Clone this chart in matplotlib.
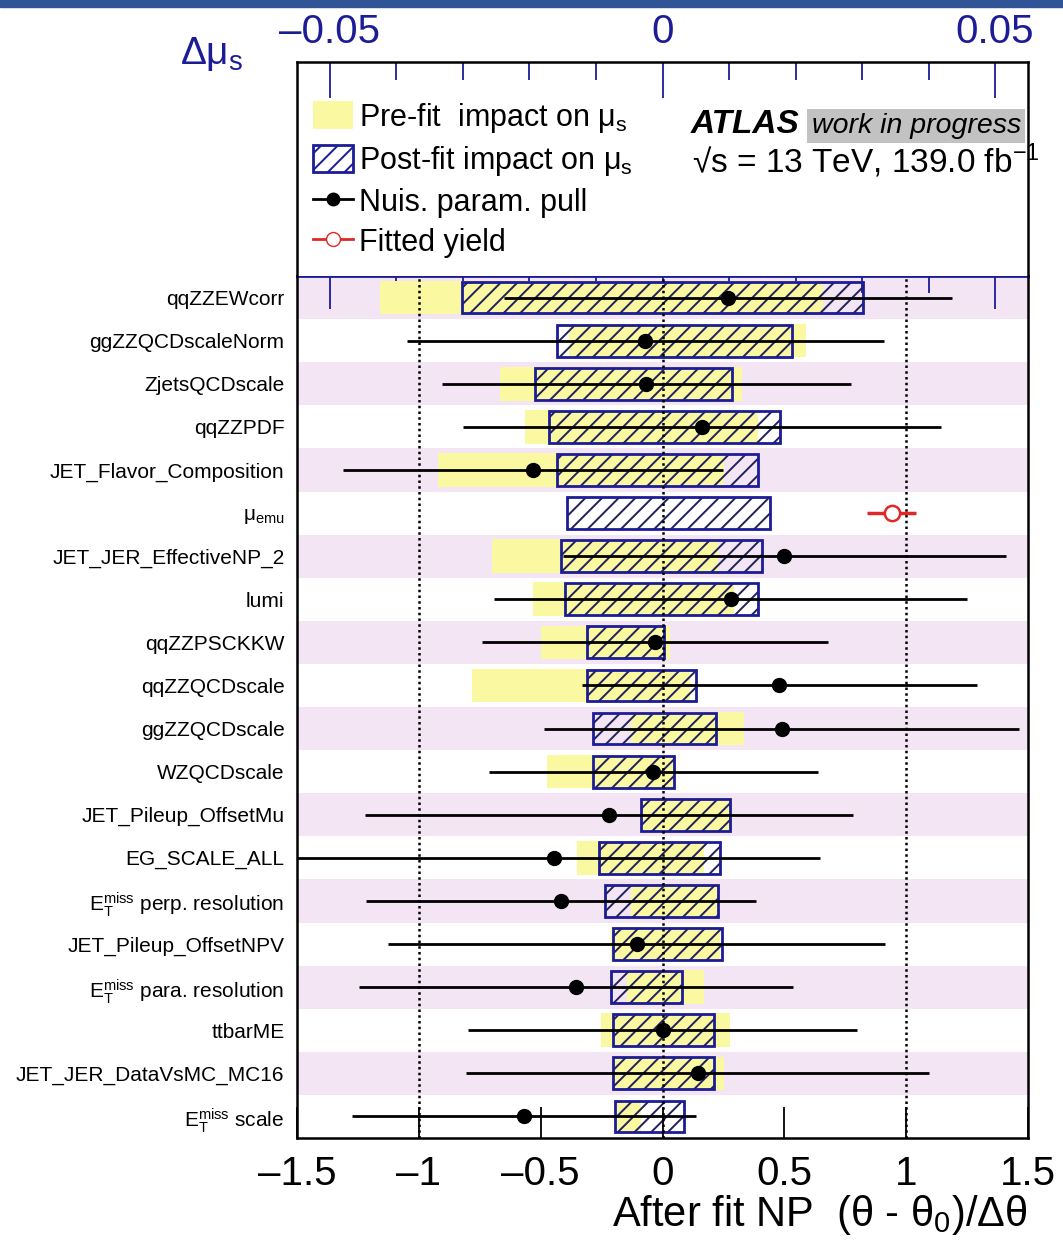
import numpy as np
import matplotlib
matplotlib.use("Agg")
import matplotlib.pyplot as plt
from matplotlib.patches import Patch, Rectangle
from matplotlib.lines import Line2D
from matplotlib.ticker import MultipleLocator, FuncFormatter

nan = np.nan

# nuisance parameters, ranked top to bottom
labels = ["qqZZEWcorr", "ggZZQCDscaleNorm", "ZjetsQCDscale", "qqZZPDF",
          "JET_Flavor_Composition", r"$\mathrm{\mu}_{\mathrm{emu}}$",
          "JET_JER_EffectiveNP_2", "lumi", "qqZZPSCKKW", "qqZZQCDscale",
          "ggZZQCDscale", "WZQCDscale", "JET_Pileup_OffsetMu", "EG_SCALE_ALL",
          r"$\mathrm{E}_{\mathrm{T}}^{\mathrm{miss}}$ perp. resolution",
          "JET_Pileup_OffsetNPV",
          r"$\mathrm{E}_{\mathrm{T}}^{\mathrm{miss}}$ para. resolution",
          "ttbarME", "JET_JER_DataVsMC_MC16",
          r"$\mathrm{E}_{\mathrm{T}}^{\mathrm{miss}}$ scale"]

# impact on mu_s (top axis)
pre_lo = [-0.0424, -0.0141, -0.0245, -0.0206, -0.0338, nan, -0.0257, -0.0195,
          -0.0183, -0.0287, -0.0048, -0.0174, -0.0033, -0.0128, -0.0048,
          -0.0078, -0.0053, -0.0092, -0.0075, -0.0069]
pre_hi = [0.0242, 0.0215, 0.0119, 0.0144, 0.0092, nan, 0.0083, 0.0108,
          0.0012, 0.0041, 0.0123, 0.0017, 0.0101, 0.0062, 0.0083,
          0.0086, 0.0062, 0.0101, 0.0092, -0.0033]
post_lo = [-0.0302, -0.0158, -0.0191, -0.0171, -0.0159, -0.0143, -0.0152,
           -0.0147, -0.0114, -0.0113, -0.0105, -0.0105, -0.0033, -0.0095,
           -0.0087, -0.0074, -0.0078, -0.0075, -0.0075, -0.0071]
post_hi = [0.0302, 0.0194, 0.0105, 0.0176, 0.0143, 0.0161, 0.0149, 0.0143,
           0.0002, 0.0051, 0.0081, 0.0017, 0.0101, 0.0086, 0.0083, 0.0089,
           0.0029, 0.0078, 0.0077, 0.0033]

# pulls (bottom axis)
pulls = [0.27, -0.07, -0.066, 0.162, -0.533, nan, 0.50, 0.28, -0.03, 0.48,
         0.49, -0.037, -0.22, -0.447, -0.416, -0.105, -0.354, 0.0, 0.145, -0.568]
pull_err = [0.92, 0.98, 0.84, 0.98, 0.78, nan, 0.91, 0.97, 0.71, 0.81,
            0.975, 0.676, 1.0, 1.095, 0.80, 1.02, 0.89, 0.80, 0.95, 0.707]

# fitted normalisation
fit_row = [5]
fit_val = [0.94]
fit_err = [0.10]

navy = "#1c1c96"
yellow = "#fbf8a2"
lavender = "#f3e5f3"

plt.rcParams["font.family"] = ["Liberation Sans", "DejaVu Sans"]
plt.rcParams["mathtext.fontset"] = "custom"
plt.rcParams["mathtext.rm"] = "Liberation Sans"
plt.rcParams["mathtext.it"] = "Liberation Sans:italic"
plt.rcParams["mathtext.bf"] = "Liberation Sans:bold"
plt.rcParams["hatch.linewidth"] = 1.4

W, H = 1063, 1246
fig = plt.figure(figsize=(W / 100, H / 100), dpi=100)
fig.patches.append(Rectangle((0, 1 - 7 / H), 1, 7 / H, transform=fig.transFigure,
                             color="#2f5597", zorder=0))

x0, x1 = 297 / W, 1028 / W
ax = fig.add_axes([x0, 1 - 1138 / H, x1 - x0, (1138 - 276) / H])
axl = fig.add_axes([x0, 1 - 276 / H, x1 - x0, (276 - 62) / H])
axp = ax.twiny()

rows = np.arange(len(labels))
imp_lim = 0.05 * 1.5 / 1.365

# --- impacts on main axes
ax.set_axisbelow(True)
for r in rows[::2]:
    ax.axhspan(r - 0.5, r + 0.5, color=lavender, lw=0, zorder=0)
pre_lo_a, pre_hi_a = np.array(pre_lo), np.array(pre_hi)
post_lo_a, post_hi_a = np.array(post_lo), np.array(post_hi)
ax.barh(rows, pre_hi_a - pre_lo_a, left=pre_lo_a, height=0.78,
        color=yellow, lw=0, zorder=1)
ax.barh(rows, post_hi_a - post_lo_a, left=post_lo_a, height=0.74,
        facecolor="none", edgecolor="#20205a", hatch="//", lw=0, zorder=2)
ax.barh(rows, post_hi_a - post_lo_a, left=post_lo_a, height=0.74,
        fill=False, edgecolor=navy, lw=2.0, zorder=3)
ax.set_xlim(-imp_lim, imp_lim)
ax.set_ylim(len(labels) - 0.5, -0.5)
ax.set_yticks(rows, labels, fontsize=15)
ax.tick_params(axis="y", length=0, pad=9)
ax.xaxis.set_ticks_position("top")
ax.xaxis.set_major_locator(MultipleLocator(0.05))
ax.xaxis.set_minor_locator(MultipleLocator(0.01))
ax.tick_params(axis="x", which="both", direction="in", labeltop=False,
               labelbottom=False, color=navy, width=1.3)
ax.tick_params(axis="x", which="major", length=24)
ax.tick_params(axis="x", which="minor", length=12)
ax.spines["top"].set_color(navy)
ax.spines["top"].set_linewidth(2)
for s in ["left", "right", "bottom"]:
    ax.spines[s].set_linewidth(1.8)

# --- pulls on twin axes
axp.set_xlim(-1.5, 1.5)
for v in [-1, 0, 1]:
    axp.axvline(v, color="black", ls=(0, (1, 1.3)), lw=1.8, zorder=1)
axp.errorbar(pulls, rows, xerr=pull_err, fmt="o", color="black", ms=10,
             elinewidth=2, capsize=0, zorder=3)
axp.errorbar(fit_val, fit_row, xerr=fit_err, fmt="o", color="#e02828",
             mfc="white", mec="#e02828", mew=1.8, ms=11, elinewidth=2.5,
             capsize=0, zorder=3)
axp.xaxis.set_ticks_position("bottom")
axp.xaxis.set_label_position("bottom")
axp.set_xticks([-1.5, -1, -0.5, 0, 0.5, 1, 1.5],
               ["\u20131.5", "\u20131", "\u20130.5", "0", "0.5", "1", "1.5"])
axp.tick_params(axis="x", direction="in", length=22, width=1.3,
                labelsize=29, pad=12)
axp.set_xlabel(r"After fit NP  ($\mathrm{\theta}$ - $\mathrm{\theta}_{0}$)/$\Delta\mathrm{\theta}$",
               fontsize=30, loc="right", labelpad=0)
for s in axp.spines.values():
    s.set_visible(False)

# --- legend / header pad
axl.set_xlim(-imp_lim, imp_lim)
axl.set_ylim(0, 1)
axl.set_yticks([])
axl.xaxis.set_ticks_position("top")
axl.xaxis.set_major_locator(MultipleLocator(0.05))
axl.xaxis.set_minor_locator(MultipleLocator(0.01))
axl.xaxis.set_major_formatter(
    FuncFormatter(lambda v, p: "0" if abs(v) < 1e-9 else
                  ("%g" % v).replace("-", "\u2013")))
axl.tick_params(axis="x", which="both", direction="in", color=navy, width=1.3,
                labelcolor=navy, labelsize=29, pad=8)
axl.tick_params(axis="x", which="major", length=26)
axl.tick_params(axis="x", which="minor", length=13)
axl.spines["bottom"].set_visible(False)
for s in ["left", "right", "top"]:
    axl.spines[s].set_linewidth(1.8)

handles = [Patch(facecolor=yellow, edgecolor="none"),
           Patch(facecolor="white", edgecolor=navy, hatch="//", lw=2),
           Line2D([], [], color="black", marker="o", ms=9, lw=2),
           Line2D([], [], color="#e02828", marker="o", mfc="white", ms=10, lw=2)]
leg_labels = [r"Pre-fit  impact on $\mathrm{\mu}_{\mathrm{s}}$",
              r"Post-fit impact on $\mathrm{\mu}_{\mathrm{s}}$",
              "Nuis. param. pull", "Fitted yield"]
axl.legend(handles, leg_labels, loc="upper left", bbox_to_anchor=(0.022, 0.82),
           frameon=False, fontsize=22, handlelength=1.3, handleheight=1.0,
           handletextpad=0.2, labelspacing=0.3, borderpad=0, borderaxespad=0)

axl.text(0.538, 0.668, "ATLAS", transform=axl.transAxes, fontsize=24,
         fontweight="bold", style="italic", va="baseline")
axl.text(0.704, 0.668, "work in progress", transform=axl.transAxes, fontsize=20.5,
         style="italic", va="baseline",
         bbox=dict(facecolor="#c2c2c2", edgecolor="none", pad=3))
axl.text(0.540, 0.481, "\u221as = 13 TeV, 139.0 fb$^{-1}$", transform=axl.transAxes,
         fontsize=24, va="baseline")

fig.text(212 / W, 1 - 54 / H, r"$\Delta\mathrm{\mu}_{\mathrm{s}}$", color=navy,
         fontsize=28, ha="center", va="center")

fig.savefig("out.png", dpi=100)
